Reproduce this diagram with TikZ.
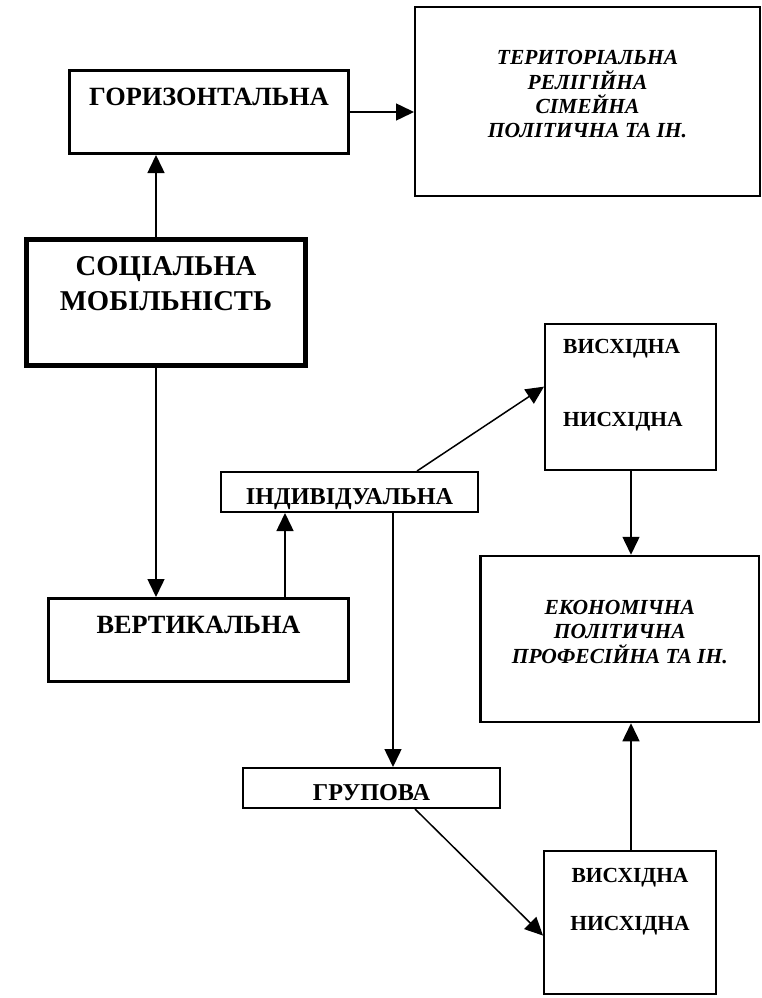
\documentclass[tikz,border=0pt]{standalone}
\usepackage{fontspec}
\setmainfont{Liberation Serif}
\usetikzlibrary{arrows.meta,calc}
\begin{document}
\begin{tikzpicture}[x=1pt,y=-1pt,
  box/.style={draw, rectangle, inner sep=0pt, fill=white},
  conn/.style={line width=1.5pt, -{Triangle[length=18pt,width=17pt]}},
  lbl/.style={anchor=base, inner sep=0pt},
  lblw/.style={anchor=base west, inner sep=0pt},
  bigb/.style={font=\fontsize{28.7}{32}\selectfont\bfseries},
  medb/.style={font=\fontsize{26.3}{30}\selectfont\bfseries},
  smb/.style={font=\fontsize{24.2}{28}\selectfont\bfseries},
  visb/.style={font=\fontsize{21.5}{25}\selectfont\bfseries},
  itb/.style={font=\fontsize{21.5}{24}\selectfont\bfseries\itshape}]
\useasboundingbox (0,0) rectangle (761,998);
% boxes
\node[box, line width=3pt, minimum width=279pt, minimum height=83pt] (hor) at (209,112) {};
\node[box, line width=2pt, minimum width=345pt, minimum height=189pt] (ter) at (587.5,101.5) {};
\node[box, line width=5pt, minimum width=279pt, minimum height=126pt] (soc) at (166,302) {};
\node[box, line width=3pt, minimum width=300pt, minimum height=82.5pt] (ver) at (198.5,639.75) {};
\node[box, line width=2pt, minimum width=257pt, minimum height=40pt] (ind) at (349.5,492) {};
\node[box, line width=2pt, minimum width=171pt, minimum height=146pt] (up) at (630.5,397) {};
\node[box, line width=2.5pt, minimum width=278.5pt, minimum height=166pt] (eco) at (619.75,639) {};
\node[box, line width=2pt, minimum width=257pt, minimum height=40pt] (grp) at (371.5,788) {};
\node[box, line width=2pt, minimum width=172pt, minimum height=143pt] (low) at (630,922.5) {};
% texts
\node[lbl, medb] (thor) at (209,105) {ГОРИЗОНТАЛЬНА};
\node[lbl, itb] (tter1) at (587.5,65) {ТЕРИТОРІАЛЬНА};
\node[lbl, itb] (tter2) at (587.5,89) {РЕЛІГІЙНА};
\node[lbl, itb] (tter3) at (587.5,113) {СІМЕЙНА};
\node[lbl, itb] (tter4) at (587.5,137) {ПОЛІТИЧНА ТА ІН.};
\node[lbl, bigb] (tsoc1) at (166,275) {СОЦІАЛЬНА};
\node[lbl, bigb] (tsoc2) at (166,310) {МОБІЛЬНІСТЬ};
\node[lbl, medb] (tver) at (198.5,633) {ВЕРТИКАЛЬНА};
\node[lbl, smb] (tind) at (349.5,504) {ІНДИВІДУАЛЬНА};
\node[lblw, visb] (tup1) at (563,353) {ВИСХІДНА};
\node[lblw, visb] (tup2) at (563,426) {НИСХІДНА};
\node[lbl, itb] (teco1) at (619.75,614) {ЕКОНОМІЧНА};
\node[lbl, itb] (teco2) at (619.75,638) {ПОЛІТИЧНА};
\node[lbl, itb] (teco3) at (619.75,663) {ПРОФЕСІЙНА ТА ІН.};
\node[lbl, smb] (tgrp) at (371.5,800) {ГРУПОВА};
\node[lbl, visb] (tlow1) at (630,882) {ВИСХІДНА};
\node[lbl, visb] (tlow2) at (630,930) {НИСХІДНА};
% guide coordinates
\coordinate (xa) at (156,0);
\coordinate (xb) at (285,0);
\coordinate (xc) at (417,0);
\coordinate (xd) at (393,0);
\coordinate (xe) at (415,0);
\coordinate (xf) at (631,0);
% connectors
\draw[conn] (hor.east) -- (ter.west |- hor.east);
\draw[conn] (soc.north -| xa) -- (hor.south -| xa);
\draw[conn] (soc.south -| xa) -- (ver.north -| xa);
\draw[conn] (ver.north -| xb) -- (ind.south -| xb);
\draw[conn] (ind.north -| xc) -- ($(up.north west)!0.43!(up.south west)$);
\draw[conn] (ind.south -| xd) -- (grp.north -| xd);
\draw[conn] (grp.south -| xe) -- ($(low.north west)!0.59!(low.south west)$);
\draw[conn] (up.south -| xf) -- (eco.north -| xf);
\draw[conn] (low.north -| xf) -- (eco.south -| xf);
\end{tikzpicture}
\end{document}
